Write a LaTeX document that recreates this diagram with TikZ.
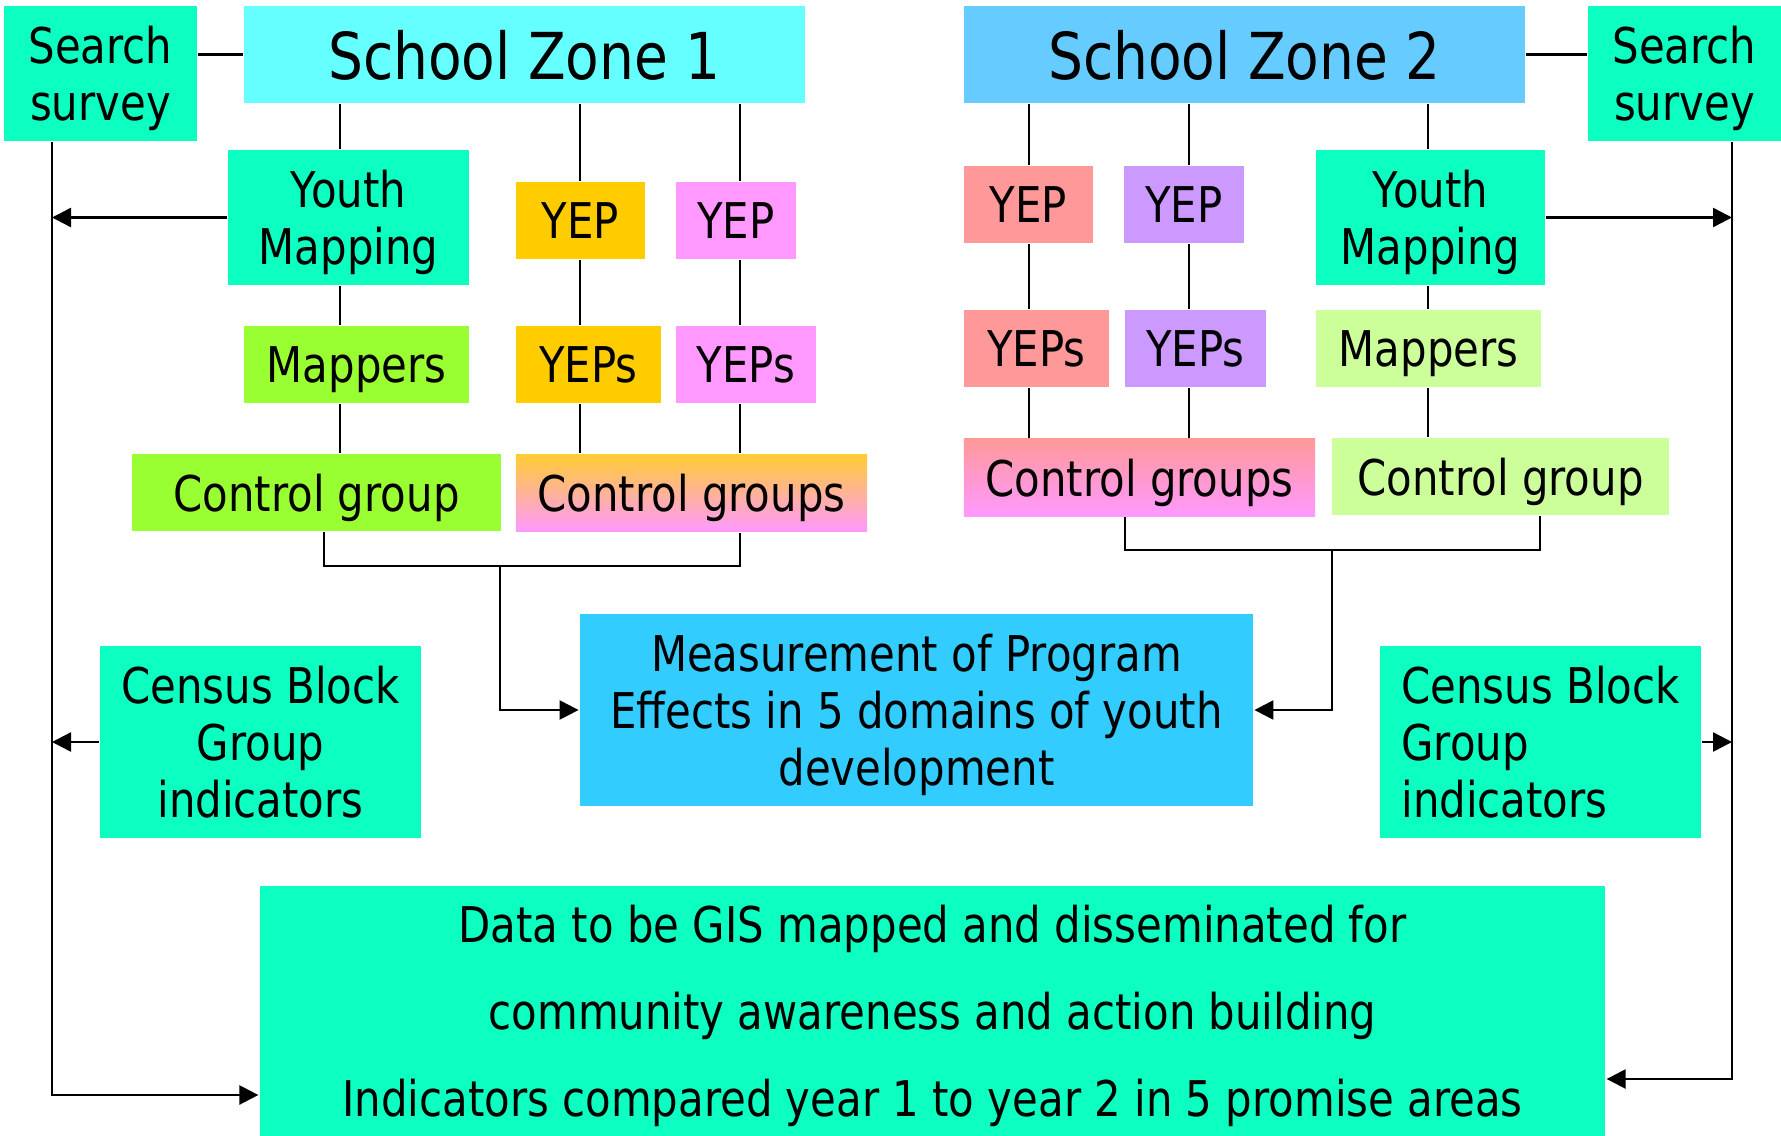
\documentclass[tikz,border=0pt]{standalone}
\usepackage{fontspec}
\setmainfont{DejaVu Sans}[FakeStretch=0.85]
\usetikzlibrary{arrows.meta}
\definecolor{aqua}{RGB}{12,255,192}
\definecolor{zonea}{RGB}{102,255,255}
\definecolor{zoneb}{RGB}{102,204,255}
\definecolor{measure}{RGB}{51,204,255}
\definecolor{yepor}{RGB}{255,204,0}
\definecolor{yeppk}{RGB}{255,153,255}
\definecolor{yeprd}{RGB}{255,153,153}
\definecolor{yeppu}{RGB}{204,153,255}
\definecolor{lime}{RGB}{153,255,51}
\definecolor{pale}{RGB}{204,255,153}
\definecolor{cgtop}{RGB}{255,204,51}

\begin{document}
\begin{tikzpicture}[x=0.01cm,y=-0.01cm,line width=0.7pt,
	>={Triangle[length=0.19cm,width=0.19cm]},
	box/.style={inner sep=0pt,text depth=0pt,align=center,font=\fontsize{14}{16.2}\selectfont},
	zone/.style={box,minimum width=5.61cm,minimum height=0.97cm,font=\fontsize{18.4}{22}\selectfont},
	tall/.style={box,minimum height=1.35cm},
	flat/.style={box,minimum height=0.77cm}]
	\useasboundingbox (0,0) rectangle (1781,1136);

	% zone 1
	\node[tall,fill=aqua,minimum width=1.93cm] (ssl) at (100.5,73.5) {Search\\survey};
	\node[zone,fill=zonea] (sz1) at (524.5,54.5) {School Zone 1};
	\node[tall,fill=aqua,minimum width=2.41cm] (yml) at (348.5,217.5) {Youth\\Mapping};
	\node[flat,fill=yepor,minimum width=1.29cm] (yep1) at (580.5,220.5) {YEP};
	\node[flat,fill=yeppk,minimum width=1.20cm] (yep2) at (736,220.5) {YEP};
	\node[flat,fill=lime,minimum width=2.25cm] (mapl) at (356.5,364.5) {Mappers};
	\node[flat,fill=yepor,minimum width=1.45cm] (yeps1) at (588.5,364.5) {YEPs};
	\node[flat,fill=yeppk,minimum width=1.40cm] (yeps2) at (746,364.5) {YEPs};
	\node[flat,fill=lime,minimum width=3.69cm] (cg1) at (316.5,492.5) {Control group};
	\node[flat,top color=cgtop,bottom color=yeppk,minimum width=3.51cm] (cgs1) at (691.5,493) {Control groups};

	% zone 2
	\node[zone,fill=zoneb] (sz2) at (1244.5,54.5) {School Zone 2};
	\node[tall,fill=aqua,minimum width=1.93cm] (ssr) at (1684.5,73.5) {Search\\survey};
	\node[flat,fill=yeprd,minimum width=1.29cm] (yep3) at (1028.5,204.5) {YEP};
	\node[flat,fill=yeppu,minimum width=1.20cm] (yep4) at (1184,204.5) {YEP};
	\node[tall,fill=aqua,minimum width=2.29cm] (ymr) at (1430.5,217.5) {Youth\\Mapping};
	\node[flat,fill=yeprd,minimum width=1.45cm] (yeps3) at (1036.5,348.5) {YEPs};
	\node[flat,fill=yeppu,minimum width=1.41cm] (yeps4) at (1195.5,348.5) {YEPs};
	\node[flat,fill=pale,minimum width=2.25cm] (mapr) at (1428.5,348.5) {Mappers};
	\node[flat,top color=yeprd,bottom color=yeppk,minimum width=3.51cm] (cgs2) at (1139.5,477.5) {Control groups};
	\node[flat,fill=pale,minimum width=3.37cm] (cg2) at (1500.5,476.5) {Control group};

	% results
	\node[box,fill=measure,minimum width=6.73cm,minimum height=1.92cm] (meas) at (916.5,710)
		{Measurement of Program\\Effects in 5 domains of youth\\development};
	\node[box,fill=aqua,minimum width=3.21cm,minimum height=1.92cm] (cenl) at (260.5,742)
		{Census Block\\Group\\indicators};
	\node[box,fill=aqua,align=left,minimum width=3.21cm,minimum height=1.92cm] (cenr) at (1540.5,742)
		{Census Block\\Group\\indicators};
	\node[box,fill=aqua,minimum width=13.45cm,minimum height=2.5cm,font=\fontsize{14}{24.7}\selectfont] (bot) at (932.5,1011)
		{Data to be GIS mapped and disseminated for\\community awareness and action building\\Indicators compared year 1 to year 2 in 5 promise areas};

	\coordinate (c1) at (340,0);
	\coordinate (c2) at (580,0);
	\coordinate (c3) at (740,0);
	\coordinate (c4) at (1029,0);
	\coordinate (c5) at (1189,0);
	\coordinate (c6) at (1428,0);
	\coordinate (b1) at (324,566);
	\coordinate (b2) at (740,566);
	\coordinate (b3) at (500,566);
	\coordinate (b4) at (1125,550);
	\coordinate (b5) at (1540,550);
	\coordinate (b6) at (1332,550);
	\coordinate (lb) at (52,1095);
	\coordinate (rb) at (1732,1079);

	\draw (sz1.west -| ssl.east) -- (sz1.west);
	\draw (sz2.east) -- (sz2.east -| ssr.west);
	\draw (c1 |- sz1.south) -- (c1 |- yml.north) (c1 |- yml.south) -- (c1 |- mapl.north) (c1 |- mapl.south) -- (c1 |- cg1.north);
	\draw (c2 |- sz1.south) -- (c2 |- yep1.north) (c2 |- yep1.south) -- (c2 |- yeps1.north) (c2 |- yeps1.south) -- (c2 |- cgs1.north);
	\draw (c3 |- sz1.south) -- (c3 |- yep2.north) (c3 |- yep2.south) -- (c3 |- yeps2.north) (c3 |- yeps2.south) -- (c3 |- cgs1.north);
	\draw (c4 |- sz2.south) -- (c4 |- yep3.north) (c4 |- yep3.south) -- (c4 |- yeps3.north) (c4 |- yeps3.south) -- (c4 |- cgs2.north);
	\draw (c5 |- sz2.south) -- (c5 |- yep4.north) (c5 |- yep4.south) -- (c5 |- yeps4.north) (c5 |- yeps4.south) -- (c5 |- cgs2.north);
	\draw (c6 |- sz2.south) -- (c6 |- ymr.north) (c6 |- ymr.south) -- (c6 |- mapr.north) (c6 |- mapr.south) -- (c6 |- cg2.north);
	\draw (cg1.south -| b1) -- (b1) -- (b2) -- (cgs1.south -| b2);
	\draw (cgs2.south -| b4) -- (b4) -- (b5) -- (cg2.south -| b5);
	\begin{scope}[->]
		\draw (b3) |- (meas.west);
		\draw (b6) |- (meas.east);
		\draw (ssl.south -| lb) -- (lb) -- (lb -| bot.west);
		\draw (ssr.south -| rb) -- (rb) -- (rb -| bot.east);
		\draw (yml.west) -- (yml.west -| lb);
		\draw (cenl.west) -- (cenl.west -| lb);
		\draw (ymr.east) -- (ymr.east -| rb);
		\draw (cenr.east) -- (cenr.east -| rb);
	\end{scope}
\end{tikzpicture}
\end{document}
